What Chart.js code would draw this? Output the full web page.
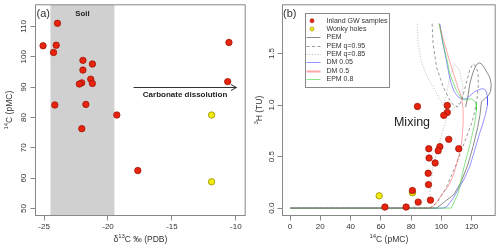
<!DOCTYPE html>
<html><head><meta charset="utf-8">
<script src="https://cdn.jsdelivr.net/npm/chart.js@4.4.1/dist/chart.umd.min.js"></script>
<style>
html,body{margin:0;padding:0;background:#fff;}
#wrap{position:relative;width:500px;height:248px;overflow:hidden;}
canvas{position:absolute;top:0;}
#a{left:0;} #b{left:250px;}
</style></head><body>
<div id="wrap"><canvas id="a" width="250" height="248"></canvas><canvas id="b" width="250" height="248"></canvas></div>
<script>
// ---------- DATA ----------
// Panel (a): d13C vs 14C
const gwD13C   = [-25.08,-23.95,-24.05,-24.26,-21.96,-21.22,-21.96,-21.35,-22.05,-22.24,-21.22,-24.16,-21.73,-19.31,-22.05,-17.67,-10.54,-10.64];
const gwC14A   = [103.6,111.0,103.8,101.4,98.8,97.6,95.6,92.6,91.4,91.0,91.2,84.1,84.3,80.8,76.3,62.5,104.7,91.8];
const wonkyD13C = [-11.9,-11.9];
const wonkyC14A = [80.8,58.8];
const soilRange = [-24.5,-19.5];
const arrowFrom = [-18.0,90];
const arrowTo   = [-9.95,90];
// Panel (b): 14C vs 3H
const gwC14B = [103.9,111.5,103.9,101.6,99.0,97.9,95.9,92.8,91.9,91.3,91.5,84.2,84.7,80.9,76.7,62.7,104.9,91.7];
const gwH3   = [0.928,0.576,0.996,0.90,0.596,0.557,0.438,0.077,0.486,0.338,0.228,0.986,0.058,0.17,0.01,0.01,0.667,0.576];
const wonkyC14B = [58.9,80.9];
const wonkyH3   = [0.119,0.148];
// model curves (young -> old)
const pemC14 = [116,117.5,119,121,123,125,126.5,128.5,130.5,132,133,132.5,131,128.5,126.5,125.5,124,121,117.5,113,108.2,102,96.8,0];
const pemH3  = [0.98,1.08,1.22,1.32,1.39,1.41,1.40,1.36,1.31,1.27,1.20,1.13,1.09,1.06,1.03,0.90,0.78,0.60,0.42,0.25,0.13,0.06,0,0];
const q95C14 = [93.9,94.5,96.8,101.1,105.5,108,111,113,115.2,118.7,120.9,122.5,124.2,124.5,123.5,121.5,119.8,116.6,110,103.3,97,92.3,0];
const q95H3  = [1.79,1.6,1.37,1.18,1.05,1.0,0.98,1.03,1.14,1.34,1.40,1.38,1.32,1.2,1.05,0.9,0.815,0.69,0.43,0.2,0.05,0,0];
const q85C14 = [84,84.7,86.5,88,91,94.5,98,101,103,105.5,108.8,112,114.3,114,109,104.5,101,94.5,92.3,86,80,0];
const q85H3  = [1.79,1.6,1.45,1.37,1.26,1.18,1.08,1.0,1.08,1.27,1.40,1.34,1.18,1.05,0.98,0.92,0.76,0.40,0.12,0.04,0,0];
const dm005C14 = [99,101,103.4,105,106.5,108.5,111,113.5,116.5,119,122,125,127.5,129.5,130.5,130.5,129,127,125.3,122,118.7,115,111,108,105.5,103.4,101,0];
const dm005H3  = [1.79,1.6,1.43,1.3,1.21,1.13,1.08,1.06,1.06,1.09,1.13,1.15,1.16,1.14,1.08,1.0,0.9,0.8,0.725,0.56,0.40,0.28,0.177,0.1,0.05,0.01,0,0];
const dm05C14 = [98.5,101,103.4,106,108.8,111,113.3,114.3,114.5,114.3,113.5,112,110,107.7,104.5,101.1,97.5,94.5,92,0];
const dm05H3  = [1.79,1.65,1.53,1.40,1.27,1.17,1.08,0.97,0.88,0.79,0.65,0.53,0.42,0.31,0.21,0.145,0.07,0.015,0,0];
const epmC14 = [98.5,100,102.2,104,105.5,107.5,110,113.3,116,119.8,122,123,123.2,122,119,115,111,108.5,106.6,0];
const epmH3  = [1.79,1.68,1.53,1.42,1.31,1.23,1.14,1.07,1.05,1.06,1.04,1.015,0.95,0.82,0.62,0.4,0.14,0.06,0,0];
const mixingLabelAt = [80.6,0.826];
// ticks
const xTicksA = [-25,-20,-15,-10];
const yTicksA = [50,60,70,80,90,100,110];
const xTicksB = [0,20,40,60,80,100,120];
const yTicksB = [0,0.5,1.0,1.5];

// ---------- HELPERS ----------
const FAM = '"Liberation Sans", Arial, Helvetica, sans-serif';
const AX = '#888';
const TXT = '#333';
const pts = (xs, ys) => xs.map((x,i)=>({x, y: ys[i]}));
function drawRich(ctx, parts, cx, cy, size, rot){
  ctx.save(); ctx.translate(cx, cy); if (rot) ctx.rotate(rot);
  let w = 0;
  for (const p of parts){ ctx.font = (p.sup? size*0.7 : size) + 'px ' + FAM; w += ctx.measureText(p.t).width; }
  let x = -w/2;
  ctx.textBaseline = 'middle'; ctx.textAlign = 'left'; ctx.fillStyle = TXT;
  for (const p of parts){
    const s = p.sup ? size*0.7 : size;
    ctx.font = s + 'px ' + FAM;
    ctx.fillText(p.t, x, p.sup ? -size*0.4 : 0);
    x += ctx.measureText(p.t).width;
  }
  ctx.restore();
}
function drawBox(chart){
  const {ctx, chartArea: c} = chart;
  ctx.save(); ctx.strokeStyle = AX; ctx.lineWidth = 1;
  ctx.strokeRect(c.left, c.top, c.right - c.left, c.bottom - c.top);
  ctx.restore();
}
function axisCfg(min, max, ticks, isY, size, fmt){
  const cfg = {
    type: 'linear', min, max,
    afterBuildTicks: s => { s.ticks = ticks.map(v => ({value: v})); },
    afterFit: s => { if (isY) s.width = size; else s.height = size; },
    grid: { drawOnChartArea: false, drawTicks: true, tickLength: 5, color: AX, tickColor: AX, lineWidth: 1 },
    border: { display: false },
    ticks: { font: { family: FAM, size: 8 }, color: TXT, autoSkip: false, padding: isY ? 0 : 1, callback: fmt }
  };
  if (isY){ cfg.ticks.minRotation = 90; cfg.ticks.maxRotation = 90; cfg.ticks.crossAlign = 'center'; }
  else { cfg.ticks.minRotation = 0; cfg.ticks.maxRotation = 0; }
  return cfg;
}

// ---------- PANEL A ----------
const panelAPlugin = {
  id: 'panelA',
  beforeDatasetsDraw(chart){
    const {ctx, chartArea: c, scales: {x}} = chart;
    const x0 = x.getPixelForValue(soilRange[0]), x1 = x.getPixelForValue(soilRange[1]);
    ctx.save(); ctx.fillStyle = '#d0d0d0';
    ctx.fillRect(x0, c.top, x1 - x0, c.bottom - c.top);
    ctx.restore();
  },
  afterDraw(chart){
    const {ctx, chartArea: c, scales: {x, y}} = chart;
    drawBox(chart);
    ctx.save();
    // arrow
    const ax0 = x.getPixelForValue(arrowFrom[0]), ay = Math.round(y.getPixelForValue(arrowFrom[1])) + 0.5;
    const ax1 = x.getPixelForValue(arrowTo[0]);
    ctx.strokeStyle = '#333'; ctx.lineWidth = 1;
    ctx.beginPath(); ctx.moveTo(ax0, ay); ctx.lineTo(ax1, ay);
    ctx.moveTo(ax1 - 5.5, ay - 3); ctx.lineTo(ax1, ay); ctx.lineTo(ax1 - 5.5, ay + 3); ctx.stroke();
    // texts
    ctx.fillStyle = '#222'; ctx.textBaseline = 'middle'; ctx.textAlign = 'center';
    ctx.font = 'bold 8px ' + FAM;
    ctx.fillText('Carbonate dissolution', (ax0 + ax1) / 2, ay + 7);
    ctx.font = 'bold 7.8px ' + FAM;
    ctx.fillText('Soil', (x.getPixelForValue(soilRange[0]) + x.getPixelForValue(soilRange[1])) / 2, c.top + 9);
    ctx.font = '11px ' + FAM; ctx.textAlign = 'left'; ctx.fillStyle = TXT;
    ctx.fillText('(a)', c.left + 1, c.top + 9);
    ctx.restore();
    drawRich(ctx, [{t:'δ'},{t:'13',sup:true},{t:'C ‰ (PDB)'}], (c.left + c.right) / 2, 240, 8.5, 0);
    drawRich(ctx, [{t:'14',sup:true},{t:'C (pMC)'}], 10, (c.top + c.bottom) / 2, 8.5, -Math.PI / 2);
  }
};

new Chart(document.getElementById('a'), {
  type: 'scatter',
  data: { datasets: [
    { label: 'Inland GW samples', data: pts(gwD13C, gwC14A), backgroundColor: '#e8230f', borderColor: '#a01505', borderWidth: 0.8, pointRadius: 3.2 },
    { label: 'Wonky holes', data: pts(wonkyD13C, wonkyC14A), backgroundColor: '#f0ec10', borderColor: '#9a8c00', borderWidth: 0.8, pointRadius: 3.2 }
  ]},
  options: {
    responsive: false, devicePixelRatio: 1, animation: false,
    layout: { padding: { left: 0, top: 4.5, right: 0.5, bottom: 0 } },
    plugins: { legend: { display: false }, tooltip: { enabled: false } },
    scales: {
      x: axisCfg(-25.67, -9.27, xTicksA, false, 32.5, v => String(v)),
      y: axisCfg(47.7, 117.1, yTicksA, true, 35.5, v => String(v))
    }
  },
  plugins: [panelAPlugin]
});

// ---------- PANEL B ----------
const panelBPlugin = {
  id: 'panelB',
  afterDraw(chart){
    const {ctx, chartArea: c, scales: {x, y}} = chart;
    drawBox(chart);
    ctx.save();
    ctx.fillStyle = '#222'; ctx.textBaseline = 'middle'; ctx.textAlign = 'center';
    ctx.font = '12.5px ' + FAM;
    ctx.fillText('Mixing', x.getPixelForValue(mixingLabelAt[0]), y.getPixelForValue(mixingLabelAt[1]));
    ctx.font = '11px ' + FAM; ctx.textAlign = 'left'; ctx.fillStyle = TXT;
    ctx.fillText('(b)', c.left + 0.5, c.top + 9);
    // legend box
    const lx = 55.5, ly = 13.5, lw = 84, lh = 74;
    ctx.fillStyle = '#fff'; ctx.fillRect(lx, ly, lw, lh);
    ctx.strokeStyle = AX; ctx.lineWidth = 1; ctx.strokeRect(lx, ly, lw, lh);
    ctx.font = '7px ' + FAM; ctx.textAlign = 'left'; ctx.textBaseline = 'middle';
    chart.data.datasets.forEach((ds, i) => {
      const yy = 20.7 + i * 8.34;
      const sx = 63.5;
      if (ds.showLine){
        ctx.save();
        ctx.strokeStyle = ds.borderColor; ctx.lineWidth = ds.legendWidth || ds.borderWidth;
        ctx.setLineDash(ds.borderDash || []);
        ctx.beginPath(); ctx.moveTo(sx - 7, Math.round(yy) + 0.5); ctx.lineTo(sx + 7, Math.round(yy) + 0.5); ctx.stroke();
        ctx.restore();
      } else {
        ctx.beginPath(); ctx.arc(sx - 1.5, yy, 2, 0, Math.PI * 2);
        ctx.fillStyle = ds.backgroundColor; ctx.fill();
        ctx.strokeStyle = ds.borderColor; ctx.lineWidth = 0.6; ctx.stroke();
      }
      ctx.fillStyle = TXT;
      ctx.fillText(ds.label, 76.5, yy);
    });
    ctx.restore();
    drawRich(ctx, [{t:'14',sup:true},{t:'C (pMC)'}], (c.left + c.right) / 2, 240, 8.5, 0);
    drawRich(ctx, [{t:'3',sup:true},{t:'H (TU)'}], 9.5, (c.top + c.bottom) / 2, 8.5, -Math.PI / 2);
  }
};

const lineDs = (label, xs, ys, color, dash, order, w) => ({
  label, data: pts(xs, ys), showLine: true, borderColor: color, backgroundColor: color,
  borderWidth: w || 1, borderDash: dash, pointRadius: 0, tension: 0, order, fill: false
});

new Chart(document.getElementById('b'), {
  type: 'scatter',
  data: { datasets: [
    { label: 'Inland GW samples', data: pts(gwC14B, gwH3), backgroundColor: '#e8230f', borderColor: '#a01505', borderWidth: 0.8, pointRadius: 3.2, order: 0 },
    { label: 'Wonky holes', data: pts(wonkyC14B, wonkyH3), backgroundColor: '#f0ec10', borderColor: '#9a8c00', borderWidth: 0.8, pointRadius: 3.2, order: 0 },
    lineDs('PEM', pemC14, pemH3, '#8a8a8a', [], 4),
    lineDs('PEM q=0.95', q95C14, q95H3, '#9a9a9a', [3, 2.5], 5),
    lineDs('PEM q=0.85', q85C14, q85H3, '#c4c4c4', [1.2, 1.5], 6),
    lineDs('DM 0.05', dm005C14, dm005H3, 'rgba(60,60,255,0.55)', [], 3),
    Object.assign(lineDs('DM 0.5', dm05C14, dm05H3, 'rgba(255,60,60,0.45)', [], 2), { legendWidth: 2 }),
    lineDs('EPM 0.8', epmC14, epmH3, 'rgba(40,210,40,0.55)', [], 1)
  ]},
  options: {
    responsive: false, devicePixelRatio: 1, animation: false,
    layout: { padding: { left: 0, top: 4.5, right: 4.5, bottom: 0 } },
    plugins: { legend: { display: false }, tooltip: { enabled: false } },
    scales: {
      x: axisCfg(-5.0, 135.6, xTicksB, false, 32.5, v => String(v)),
      y: axisCfg(-0.072, 1.973, yTicksB, true, 32.5, v => v.toFixed(1))
    }
  },
  plugins: [panelBPlugin]
});
</script>
</body></html>
